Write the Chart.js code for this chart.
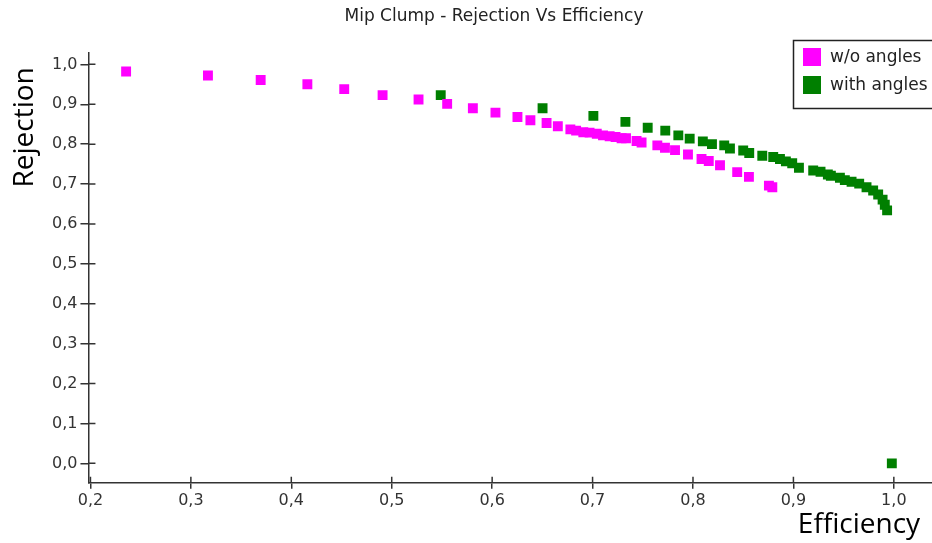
<!DOCTYPE html>
<html lang="en">
<head>
    <meta charset="UTF-8">
    <title>Mip Clump - Rejection Vs Efficiency</title>
    <script src="https://cdn.jsdelivr.net/npm/chart.js"></script>
    <style>
        html, body {
            margin: 0;
            overflow: hidden;
            background-color: white;
        }
        /* a little wider than the window so the plot runs off the right edge */
        #wrap {
            width: 939px;
            height: 543px;
        }
    </style>
</head>
<body>
    <div id="wrap"><canvas id="mipChart"></canvas></div>

    <script>
        // w/o angles series
        const woX = [0.2355, 0.317, 0.3695, 0.416, 0.4527, 0.4909, 0.5267, 0.5552, 0.5808, 0.6033,
                     0.6252, 0.6381, 0.6542, 0.6654, 0.6779, 0.6836, 0.6908, 0.697, 0.7042, 0.7104,
                     0.717, 0.7229, 0.7289, 0.7333, 0.7438, 0.7488, 0.7645, 0.7721, 0.7821, 0.795,
                     0.8085, 0.8157, 0.8269, 0.844, 0.8557, 0.8756, 0.879];
        const woY = [0.982, 0.972, 0.961, 0.950, 0.938, 0.923, 0.912, 0.901, 0.890, 0.879,
                     0.868, 0.860, 0.853, 0.845, 0.837, 0.834, 0.830, 0.829, 0.826, 0.822,
                     0.820, 0.818, 0.815, 0.815, 0.808, 0.804, 0.797, 0.791, 0.785, 0.774,
                     0.763, 0.758, 0.747, 0.730, 0.718, 0.696, 0.692];

        // with angles series
        const withX = [0.5488, 0.6502, 0.7008, 0.7327, 0.7549, 0.7724, 0.7854, 0.7967, 0.8098, 0.8189,
                       0.8311, 0.8368, 0.85, 0.856, 0.869, 0.8799, 0.8866, 0.8925, 0.8988, 0.9055,
                       0.9197, 0.927, 0.9343, 0.9373, 0.9463, 0.9512, 0.9579, 0.9655, 0.9728, 0.9794,
                       0.9844, 0.9888, 0.991, 0.9933, 0.998];
        const withY = [0.923, 0.890, 0.871, 0.856, 0.841, 0.834, 0.822, 0.814, 0.807, 0.800,
                       0.797, 0.789, 0.784, 0.778, 0.771, 0.768, 0.763, 0.757, 0.752, 0.741,
                       0.734, 0.731, 0.724, 0.721, 0.716, 0.710, 0.706, 0.701, 0.692, 0.684,
                       0.674, 0.661, 0.648, 0.634, 0.0];

        const xTicks = [0.2, 0.3, 0.4, 0.5, 0.6, 0.7, 0.8, 0.9, 1.0];
        const yTicks = [0.0, 0.1, 0.2, 0.3, 0.4, 0.5, 0.6, 0.7, 0.8, 0.9, 1.0];

        const toPoints = (xs, ys) => xs.map((x, i) => ({ x: x, y: ys[i] }));
        const fmt = v => v.toFixed(1).replace('.', ',');

        // tick marks crossing into the plot area
        const innerTicks = {
            id: 'innerTicks',
            afterDraw(chart) {
                const c = chart.ctx, a = chart.chartArea;
                const xs = chart.scales.x, ys = chart.scales.y;
                c.save();
                c.strokeStyle = '#333';
                c.lineWidth = 1.5;
                c.beginPath();
                xTicks.forEach(v => {
                    const px = xs.getPixelForValue(v);
                    c.moveTo(px, a.bottom);
                    c.lineTo(px, a.bottom - 6);
                });
                yTicks.forEach(v => {
                    const py = ys.getPixelForValue(v);
                    c.moveTo(a.left, py);
                    c.lineTo(a.left + 7, py);
                });
                c.stroke();
                c.restore();
            }
        };

        // axis titles, Rejection near the top left, Efficiency under the right end
        const axisTitles = {
            id: 'axisTitles',
            afterDraw(chart) {
                const c = chart.ctx, a = chart.chartArea;
                c.save();
                c.fillStyle = '#000';
                c.font = '28px "Open Sans"';
                c.textAlign = 'center';
                c.textBaseline = 'middle';
                c.fillText('Efficiency', a.right - 73, chart.height - 18);
                c.translate(25, a.top + 75);
                c.rotate(-Math.PI / 2);
                c.fillText('Rejection', 0, 0);
                c.restore();
            }
        };

        // boxed legend in the top right corner
        const boxLegend = {
            id: 'boxLegend',
            afterDraw(chart) {
                const c = chart.ctx;
                const left = chart.chartArea.right - 139, top = 40;
                c.save();
                c.fillStyle = 'white';
                c.fillRect(left, top, 150, 68);
                c.strokeStyle = '#222';
                c.lineWidth = 1.5;
                c.strokeRect(left + 0.5, top + 0.5, 150, 68);
                c.font = '17px "DejaVu Sans"';
                c.textBaseline = 'middle';
                chart.data.datasets.forEach((ds, i) => {
                    const y = top + 17 + i * 28;
                    c.fillStyle = ds.backgroundColor;
                    c.fillRect(left + 10, y - 9, 18, 18);
                    c.fillStyle = '#222';
                    c.fillText(ds.label, left + 37, y + 1);
                });
                c.restore();
            }
        };

        const ctx = document.getElementById('mipChart').getContext('2d');

        const chart = new Chart(ctx, {
            type: 'scatter',
            data: {
                datasets: [{
                    label: 'w/o angles',
                    data: toPoints(woX, woY),
                    backgroundColor: '#ff00ff',
                    borderColor: '#ff00ff',
                    borderWidth: 0,
                    pointStyle: 'rect',
                    pointRadius: 7,
                    pointHoverRadius: 7
                }, {
                    label: 'with angles',
                    data: toPoints(withX, withY),
                    backgroundColor: '#007f00',
                    borderColor: '#007f00',
                    borderWidth: 0,
                    pointStyle: 'rect',
                    pointRadius: 7,
                    pointHoverRadius: 7
                }]
            },
            options: {
                responsive: true,
                maintainAspectRatio: false,
                animation: false,
                layout: {
                    padding: { left: 49, right: 0, top: 0, bottom: 31 }
                },
                plugins: {
                    legend: { display: false },
                    tooltip: { enabled: false },
                    title: {
                        display: true,
                        text: 'Mip Clump - Rejection Vs Efficiency',
                        color: '#222',
                        font: { family: '"DejaVu Sans"', size: 17, weight: 'normal' },
                        padding: { top: 6, bottom: 26 }
                    }
                },
                scales: {
                    x: {
                        type: 'linear',
                        min: 0.198,
                        max: 1.038,
                        afterBuildTicks: s => { s.ticks = xTicks.map(v => ({ value: v })); },
                        ticks: {
                            callback: v => fmt(v),
                            color: '#333',
                            font: { family: '"DejaVu Sans"', size: 16 },
                            padding: 2,
                            maxRotation: 0
                        },
                        grid: { drawOnChartArea: false, color: '#333', lineWidth: 1.5, tickLength: 6 },
                        border: { color: '#333', width: 1.5 }
                    },
                    y: {
                        type: 'linear',
                        min: -0.0487,
                        max: 1.03,
                        afterBuildTicks: s => { s.ticks = yTicks.map(v => ({ value: v })); },
                        ticks: {
                            callback: v => fmt(v),
                            color: '#333',
                            font: { family: '"DejaVu Sans"', size: 16 },
                            padding: 3
                        },
                        grid: { drawOnChartArea: false, color: '#333', lineWidth: 1.5, tickLength: 8 },
                        border: { color: '#333', width: 1.5 }
                    }
                }
            },
            plugins: [innerTicks, axisTitles, boxLegend]
        });
    </script>
</body>
</html>
